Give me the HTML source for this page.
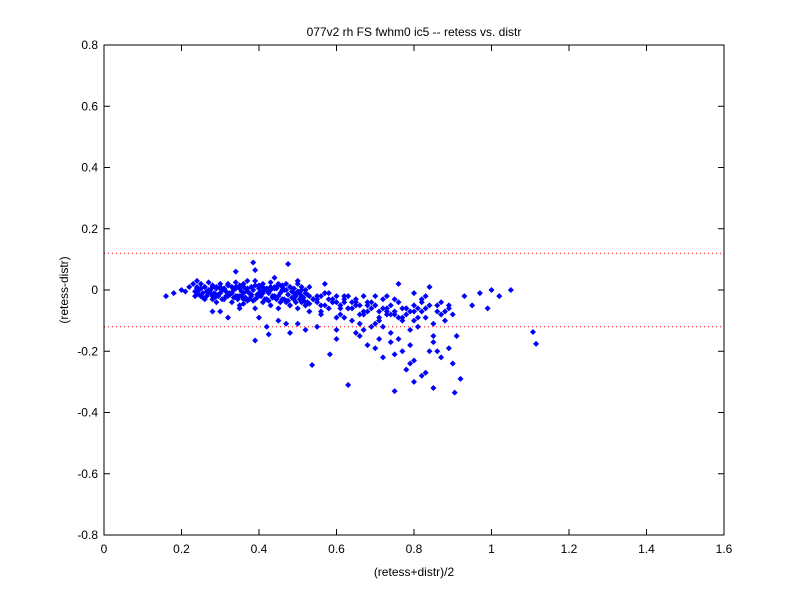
<!DOCTYPE html>
<html><head><meta charset="utf-8"><style>
body{margin:0;background:#fff;}
svg{display:block;font-family:"Liberation Sans",sans-serif;}
</style></head><body>
<svg id="chart" width="800" height="600" viewBox="0 0 800 600">
<rect x="0" y="0" width="800" height="600" fill="#fff"/>
<text x="414" y="36" font-size="12" text-anchor="middle">077v2 rh FS fwhm0 ic5 -- retess vs. distr</text>
<text x="414" y="576" font-size="12" text-anchor="middle">(retess+distr)/2</text>
<text transform="translate(68,290) rotate(-90)" font-size="12" text-anchor="middle">(retess-distr)</text>
<g id="limits"></g>
<g id="points"></g>
<rect x="104" y="45" width="620" height="490" fill="none" stroke="#000" stroke-width="1"/>
<g id="axes"></g>
</svg>
<script>
const xTicks=[0,0.2,0.4,0.6,0.8,1,1.2,1.4,1.6];
const xTickLabels=["0","0.2","0.4","0.6","0.8","1","1.2","1.4","1.6"];
const yTicks=[-0.8,-0.6,-0.4,-0.2,0,0.2,0.4,0.6,0.8];
const yTickLabels=["-0.8","-0.6","-0.4","-0.2","0","0.2","0.4","0.6","0.8"];
const limitValues=[0.12,-0.12];
const meanVals=[0.16,0.18,0.2,0.21,0.22,0.23,0.24,0.24,0.25,0.25,0.26,0.26,0.27,0.27,0.28,0.28,0.29,0.29,0.3,0.3,0.31,0.31,0.32,0.32,0.33,0.33,0.34,0.34,0.35,0.35,0.36,0.36,0.37,0.37,0.38,0.38,0.39,0.39,0.4,0.4,0.41,0.41,0.42,0.42,0.43,0.43,0.44,0.44,0.45,0.45,0.46,0.46,0.47,0.47,0.48,0.48,0.49,0.49,0.5,0.5,0.51,0.51,0.52,0.52,0.53,0.53,0.54,0.55,0.56,0.57,0.58,0.59,0.6,0.61,0.62,0.63,0.64,0.65,0.66,0.67,0.68,0.69,0.7,0.71,0.72,0.73,0.74,0.75,0.76,0.77,0.78,0.79,0.8,0.81,0.82,0.83,0.84,0.85,0.86,0.87,0.88,0.89,0.9,
0.25,0.27,0.29,0.31,0.33,0.35,0.37,0.39,0.41,0.43,0.45,0.47,0.49,0.51,0.53,0.55,0.57,0.59,0.61,0.63,0.65,0.67,0.69,0.71,0.73,0.75,0.77,0.79,0.81,0.83,0.85,0.87,0.89,
0.26,0.28,0.3,0.32,0.34,0.36,0.38,0.4,0.42,0.44,0.46,0.48,0.5,0.52,0.54,0.56,0.58,0.6,0.62,0.64,0.66,0.68,0.7,0.72,0.74,0.76,0.78,0.8,0.82,0.84,0.86,0.88,
0.24,0.3,0.35,0.4,0.45,0.5,0.55,0.6,0.65,0.7,0.75,0.8,0.85,0.9,
0.385,0.475,0.34,0.39,0.44,0.5,0.57,
0.63,0.75,0.8,0.85,0.905,0.92,0.537,0.583,0.39,0.425,
0.47,0.52,0.68,0.72,0.78,0.82,0.86,0.91,
0.93,0.95,0.97,0.99,1.0,1.05,1.02,
1.107,1.115,
0.6,0.66,0.7,0.74,0.77,0.79,0.83,0.87,0.89,
0.73,0.76,0.8,0.84,0.28,0.32,0.36,0.42,0.48,0.52,0.56,0.62,0.67,0.71,
0.235,0.245,0.255,0.265,0.275,0.285,0.295,0.305,0.315,0.325,0.335,0.345,0.355,0.365,0.375,0.385,0.395,0.405,0.415,0.425,0.435,0.445,0.455,0.465,0.475,0.485,0.495,0.505,0.515,0.525,
0.235,0.245,0.255,0.265,0.275,0.285,0.295,0.305,0.315,0.325,0.335,0.345,0.355,0.365,0.375,0.385,0.395,0.405,0.415,0.425,0.435,0.445,0.455,0.465,0.475,0.485,0.495,0.505,0.515,0.525,
0.24,0.25,0.26,0.27,0.28,0.29,0.3,0.31,0.32,0.33,0.34,0.35,0.36,0.37,0.38,0.39,0.4,0.41,0.42,0.43,0.44,0.45,0.46,0.47,0.48,0.49,0.5,0.51,0.52,0.53,
0.54,0.55,0.56,0.57,0.58,0.59,0.6,0.61,0.62,0.63,0.64,0.65,0.66,0.67,0.68,0.69,0.7,0.71,0.72,0.73,0.74,0.75,0.76,0.77,0.78,0.79,0.8,0.81,0.82,0.83];
const diffVals=[-0.02,-0.01,0,-0.005,0.01,0.02,0.005,-0.01,0.02,-0.02,0.01,-0.03,0.025,-0.005,0.015,-0.02,0.01,-0.04,0.02,-0.01,0.005,-0.03,0.02,-0.015,0.01,-0.04,0.025,-0.02,0.005,-0.05,0.02,-0.01,0.03,-0.035,0.01,-0.02,0.03,-0.06,0.015,-0.01,0.02,-0.04,0.005,-0.03,0.025,-0.05,0.01,-0.02,0.02,-0.06,0.015,-0.03,0.02,-0.04,0.01,-0.05,0.005,-0.03,0.02,-0.06,0.01,-0.04,0,-0.05,0.01,-0.07,-0.03,-0.02,-0.05,-0.01,-0.06,-0.03,-0.04,-0.08,-0.02,-0.06,-0.1,-0.04,-0.08,-0.02,-0.07,-0.12,-0.05,-0.09,-0.03,-0.06,-0.14,-0.08,-0.04,-0.1,-0.06,-0.18,-0.07,-0.12,-0.03,-0.09,-0.05,-0.11,-0.07,-0.04,-0.1,-0.06,-0.08,
0.005,-0.01,-0.02,0,-0.01,-0.02,-0.005,-0.03,-0.01,0,-0.02,-0.035,-0.01,-0.02,-0.045,-0.03,-0.01,-0.04,-0.06,-0.02,-0.05,-0.08,-0.04,-0.1,-0.07,-0.03,-0.09,-0.13,-0.06,-0.02,-0.15,-0.08,-0.05,
0.01,-0.03,0.005,-0.02,0.01,-0.045,-0.015,0.01,-0.03,-0.02,0,-0.05,-0.01,-0.04,-0.03,-0.07,-0.01,-0.09,-0.04,-0.06,-0.11,-0.05,-0.02,-0.12,-0.08,-0.16,-0.06,-0.1,-0.04,-0.2,-0.05,-0.07,
0.03,-0.07,-0.06,-0.09,-0.1,-0.11,-0.12,-0.16,-0.14,-0.19,-0.21,-0.23,-0.17,-0.24,
0.09,0.085,0.06,0.065,0.04,0.03,0.02,
-0.31,-0.33,-0.3,-0.32,-0.335,-0.29,-0.245,-0.21,-0.165,-0.145,
-0.11,-0.13,-0.18,-0.22,-0.26,-0.28,-0.2,-0.15,
-0.02,-0.05,-0.01,-0.06,0,0,-0.02,
-0.137,-0.176,
-0.13,-0.15,-0.11,-0.17,-0.2,-0.24,-0.27,-0.22,-0.19,
-0.02,0.02,-0.01,0.01,-0.07,-0.09,-0.03,-0.12,-0.14,-0.05,-0.08,-0.09,-0.13,-0.16,
-0.005,0,-0.01,-0.005,0,-0.01,-0.015,0,-0.005,-0.01,0,-0.02,-0.005,0.005,-0.01,0,-0.015,-0.005,0,-0.01,-0.02,0.005,-0.01,0,-0.015,-0.005,-0.02,-0.01,-0.025,-0.015,
-0.02,-0.015,-0.025,-0.02,-0.01,-0.025,-0.02,-0.03,-0.02,-0.015,-0.025,-0.03,-0.02,-0.025,-0.03,-0.035,-0.025,-0.02,-0.03,-0.035,-0.025,-0.03,-0.04,-0.03,-0.035,-0.025,-0.04,-0.03,-0.035,-0.04,
0.01,0.005,0.01,0,0.01,0.005,0.01,0.005,0.015,0.01,0.005,0.015,0.01,0.005,0.01,0.015,0.005,0.01,0,0.01,0.005,0.015,0.01,0,0.01,0.005,-0.005,0,-0.01,-0.02,
-0.03,-0.04,-0.02,-0.05,-0.03,-0.04,-0.02,-0.05,-0.03,-0.06,-0.04,-0.03,-0.05,-0.07,-0.04,-0.06,-0.05,-0.07,-0.06,-0.08,-0.05,-0.07,-0.09,-0.06,-0.08,-0.07,-0.05,-0.09,-0.07,-0.06];
const X0=104,X1=724,Y0=535,Y1=45;
function sx(v){return X0+(v-0)/(1.6-0)*(X1-X0);}
function sy(v){return Y0-(v+0.8)/1.6*(Y0-Y1);}
const NS="http://www.w3.org/2000/svg";
const axes=document.getElementById('axes');
xTicks.forEach((t,i)=>{
  const x=sx(t);
  const l1=document.createElementNS(NS,'line');
  
  
  l1.setAttribute('x1',x);l1.setAttribute('x2',x);l1.setAttribute('y1',Y0);l1.setAttribute('y2',Y0-6);l1.setAttribute('stroke','#000');
  axes.appendChild(l1);
  const l2=document.createElementNS(NS,'line');
  
  
  l2.setAttribute('x1',x);l2.setAttribute('x2',x);l2.setAttribute('y1',Y1);l2.setAttribute('y2',Y1+6);l2.setAttribute('stroke','#000');
  axes.appendChild(l2);
  const tx=document.createElementNS(NS,'text');
  
  
  tx.setAttribute('x',x);tx.setAttribute('y',Y0+18);tx.setAttribute('font-size','12');tx.setAttribute('text-anchor','middle');
  tx.textContent=xTickLabels[i];axes.appendChild(tx);
});
yTicks.forEach((t,i)=>{
  const y=sy(t);
  const l1=document.createElementNS(NS,'line');
  
  
  l1.setAttribute('x1',X0);l1.setAttribute('x2',X0+6);l1.setAttribute('y1',y);l1.setAttribute('y2',y);l1.setAttribute('stroke','#000');
  axes.appendChild(l1);
  const l2=document.createElementNS(NS,'line');
  
  
  l2.setAttribute('x1',X1);l2.setAttribute('x2',X1-6);l2.setAttribute('y1',y);l2.setAttribute('y2',y);l2.setAttribute('stroke','#000');
  axes.appendChild(l2);
  const tx=document.createElementNS(NS,'text');
  
  
  tx.setAttribute('x',X0-6);tx.setAttribute('y',y+4);tx.setAttribute('font-size','12');tx.setAttribute('text-anchor','end');
  tx.textContent=yTickLabels[i];axes.appendChild(tx);
});
const lim=document.getElementById('limits');
limitValues.forEach(v=>{
  const l=document.createElementNS(NS,'line');
  
  
  l.setAttribute('x1',X0);l.setAttribute('x2',X1);l.setAttribute('y1',sy(v));l.setAttribute('y2',sy(v));
  l.setAttribute('stroke','#f00');l.setAttribute('stroke-dasharray','1 3');
  lim.appendChild(l);
});
const pts=document.getElementById('points');
const n=Math.min(meanVals.length,diffVals.length);
for(let i=0;i<n;i++){
  const x=sx(meanVals[i]),y=sy(diffVals[i]);
  const p=document.createElementNS(NS,'path');
  
  
  p.setAttribute('d',`M${x} ${y-3}L${x+3} ${y}L${x} ${y+3}L${x-3} ${y}Z`);
  p.setAttribute('fill','#00f');
  pts.appendChild(p);
}
</script>
</body></html>
